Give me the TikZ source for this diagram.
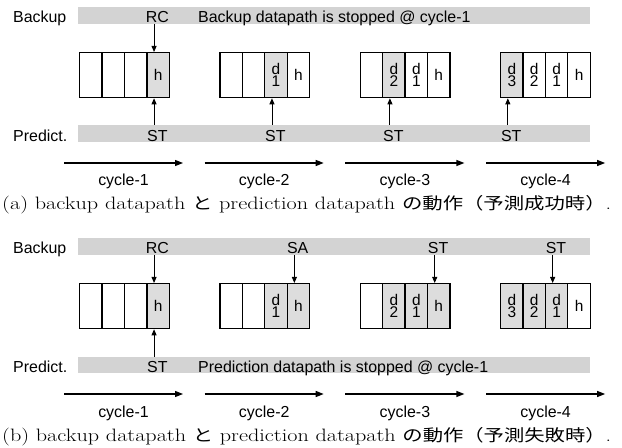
\documentclass[tikz,border=0pt]{standalone}
\usepackage{fontspec}
\usepackage{graphicx}
\newfontfamily\sansfig{Liberation Sans}
\newfontfamily\cjk{Noto Sans CJK JP}
\usetikzlibrary{arrows.meta}
\definecolor{barfill}{RGB}{211,211,211}
\definecolor{cellfill}{RGB}{221,221,221}
% stacked "d" over an index inside a register cell
\newcommand\dpair[1]{d\\#1}
\newcommand\capfont{\fontsize{18}{20}\selectfont}
\newcommand\jp[1]{{\cjk\fontsize{16.5}{20}\selectfont #1}}

\begin{document}
\begin{tikzpicture}[x=1bp, y=-1bp,
  txt/.style={font=\sansfig\fontsize{16}{16}\selectfont, inner sep=0pt},
  bar/.style={fill=barfill, minimum width=512bp, minimum height=16.5bp, inner sep=0pt, anchor=north west},
  cell/.style={draw, line width=1.3bp, minimum width=22.4bp, minimum height=45bp, inner sep=0pt,
               anchor=north west, align=center, font=\sansfig\fontsize{15.5}{12.5}\selectfont},
  hot/.style={fill=cellfill},
  cold/.style={fill=white},
  feed/.style={-{Triangle[length=6bp,width=5bp]}, line width=0.9bp},
  clock/.style={-{Triangle[length=8bp,width=6bp]}, line width=1.2bp},
  caption/.style={inner sep=0pt, anchor=base west}]

\useasboundingbox (0,0) rectangle (622,448);

% ---------------- (a) prediction succeeds ----------------
\node[bar] (aback) at (78,7) {};
\node[bar] (apred) at (78,125) {};
\node[txt, anchor=base west] (ablbl) at (13,22.5) {Backup};
\node[txt, anchor=base west] (aplbl) at (13,141.5) {Predict.};

\foreach \k/\j/\t/\s in {
  1/1/{}/cold, 1/2/{}/cold, 1/3/{}/cold, 1/4/h/hot,
  2/1/{}/cold, 2/2/{}/cold, 2/3/\dpair1/hot, 2/4/h/cold,
  3/1/{}/cold, 3/2/\dpair2/hot, 3/3/\dpair1/cold, 3/4/h/cold,
  4/1/\dpair3/hot, 4/2/\dpair2/cold, 4/3/\dpair1/cold, 4/4/h/cold}
  \node[cell,\s] (a\k\j) at ({79+140.33*(\k-1)+22.4*(\j-1)},52) {\t};

\node[txt, anchor=base] (arc) at (157.4,22.5) {RC};
\node[txt, anchor=base west] (astop) at (198,22.5) {Backup datapath is stopped @ cycle-1};
\draw[feed] ([xshift=-4bp]a14.north |- aback.south) -- ([xshift=-4bp]a14.north);

\foreach \c/\x in {a14/157.4, a23/275.3, a32/393.3, a41/511.2} {
  \node[txt, anchor=base] (ast\c) at (\x,141.5) {ST};
  \draw[feed] ([xshift=-4bp]\c.south |- apred.north) -- ([xshift=-4bp]\c.south);
}

\foreach \k in {1,...,4} {
  \coordinate (ats\k) at ({64+140.7*(\k-1)},163);
  \coordinate (ate\k) at ({183+140.7*(\k-1)},163);
  \draw[clock] (ats\k) -- (ate\k);
  \node[txt, anchor=base] (acyc\k) at ({123.5+140.7*(\k-1)},186) {cycle-\k};
}

\node[caption] (acap) at (2,210)
  {\resizebox{609bp}{\height}{\capfont (a) backup datapath \jp{と} prediction datapath \jp{の動作（予測成功時）}.}};

% ---------------- (b) prediction fails ----------------
\node[bar] (bback) at (78,238) {};
\node[bar] (bpred) at (78,356.5) {};
\node[txt, anchor=base west] (bblbl) at (13,253.5) {Backup};
\node[txt, anchor=base west] (bplbl) at (13,372.5) {Predict.};

\foreach \k/\j/\t/\s in {
  1/1/{}/cold, 1/2/{}/cold, 1/3/{}/cold, 1/4/h/hot,
  2/1/{}/cold, 2/2/{}/cold, 2/3/\dpair1/hot, 2/4/h/hot,
  3/1/{}/cold, 3/2/\dpair2/hot, 3/3/\dpair1/hot, 3/4/h/hot,
  4/1/\dpair3/hot, 4/2/\dpair2/hot, 4/3/\dpair1/hot, 4/4/h/cold}
  \node[cell,\s] (b\k\j) at ({79+140.33*(\k-1)+22.4*(\j-1)},283) {\t};

\foreach \c/\x/\t in {b14/157.4/RC, b24/297.7/SA, b34/438.1/ST, b43/556/ST} {
  \node[txt, anchor=base] (bop\c) at (\x,253.5) {\t};
  \draw[feed] ([xshift=-4bp]\c.north |- bback.south) -- ([xshift=-4bp]\c.north);
}

\node[txt, anchor=base] (bst) at (157.4,372.5) {ST};
\node[txt, anchor=base west] (bstop) at (198,372.5) {Prediction datapath is stopped @ cycle-1};
\draw[feed] ([xshift=-4bp]b14.south |- bpred.north) -- ([xshift=-4bp]b14.south);

\foreach \k in {1,...,4} {
  \coordinate (bts\k) at ({64+140.7*(\k-1)},394);
  \coordinate (bte\k) at ({183+140.7*(\k-1)},394);
  \draw[clock] (bts\k) -- (bte\k);
  \node[txt, anchor=base] (bcyc\k) at ({123.5+140.7*(\k-1)},417) {cycle-\k};
}

\node[caption] (bcap) at (2,441)
  {\resizebox{609bp}{\height}{\capfont (b) backup datapath \jp{と} prediction datapath \jp{の動作（予測失敗時）}.}};

\end{tikzpicture}
\end{document}
